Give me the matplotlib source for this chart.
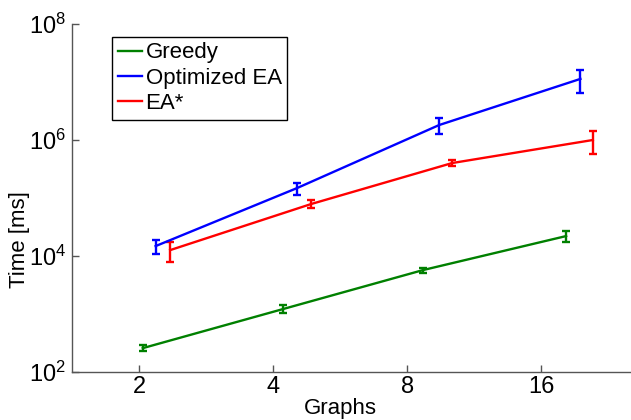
import matplotlib
matplotlib.use('Agg')
import matplotlib.pyplot as plt
from matplotlib.lines import Line2D
from matplotlib.ticker import FixedLocator, NullLocator, FixedFormatter

plt.rcParams['font.family'] = ['Liberation Sans', 'DejaVu Sans']
plt.rcParams['mathtext.fontset'] = 'custom'
plt.rcParams['mathtext.rm'] = 'Liberation Sans'
plt.rcParams['mathtext.it'] = 'Liberation Sans'
plt.rcParams['mathtext.default'] = 'regular'

# values
graphs = [2, 4, 8, 16]
tick_labels = ['2', '4', '8', '16']
y_ticks = [1e2, 1e4, 1e6, 1e8]
y_labels = ['$10^{2}$', '$10^{4}$', '$10^{6}$', '$10^{8}$']

greedy_x = [2.04, 4.21, 8.69, 18.2]
greedy_t = [259, 1220, 5740, 22100]
greedy_err = [30, 190, 560, 4400]

opt_x = [2.18, 4.53, 9.44, 19.6]
opt_t = [14860, 148600, 1.81e6, 1.13e7]
opt_err = [4200, 34000, 5.6e5, 4.8e6]

eastar_x = [2.35, 4.87, 10.1, 20.9]
eastar_t = [12670, 78800, 401000, 1.0e6]
eastar_err = [4800, 12500, 50000, 4.2e5]

green = (0, 0.5, 0)
blue = (0, 0, 1)
red = (1, 0, 0)

fig = plt.figure(figsize=(6.31, 4.2), dpi=100)
ax = fig.add_axes([0.114, 0.114, 0.886, 0.829])

style = dict(lw=1.7, capsize=3, capthick=1.7, elinewidth=1.7)
ax.errorbar(greedy_x, greedy_t, yerr=greedy_err, color=green, **style)
ax.errorbar(opt_x, opt_t, yerr=opt_err, color=blue, **style)
ax.errorbar(eastar_x, eastar_t, yerr=eastar_err, color=red, **style)

ax.set_xscale('log', base=2)
ax.set_yscale('log')
ax.set_xlim(2 ** 0.5, 2 ** 4.67)
ax.set_ylim(1e2, 1e8)
ax.xaxis.set_major_locator(FixedLocator(graphs))
ax.xaxis.set_major_formatter(FixedFormatter(tick_labels))
ax.xaxis.set_minor_locator(NullLocator())
ax.yaxis.set_major_locator(FixedLocator(y_ticks))
ax.yaxis.set_major_formatter(FixedFormatter(y_labels))
ax.yaxis.set_minor_locator(NullLocator())

for s in ['top', 'right']:
    ax.spines[s].set_visible(False)
for s in ['left', 'bottom']:
    ax.spines[s].set_color('#555555')
    ax.spines[s].set_linewidth(1.0)
ax.tick_params(direction='in', length=5, width=1, colors='#555555', labelcolor='black',
               labelsize=17)
ax.tick_params(axis='x', pad=3)
ax.tick_params(axis='y', pad=4)

ax.set_xlabel('Graphs', fontsize=16, labelpad=-2)
ax.xaxis.set_label_coords(0.48, -0.075)
ax.set_ylabel('Time [ms]', fontsize=16)
ax.yaxis.set_label_coords(-0.075, 0.38)

handles = [Line2D([], [], color=c, lw=1.7) for c in (green, blue, red)]
leg = ax.legend(handles, ['Greedy', 'Optimized EA', 'EA*'], loc='upper left',
                bbox_to_anchor=(0.072, 0.963), fontsize=16,
                handlelength=1.1, handletextpad=0.15, borderaxespad=0,
                borderpad=0.25, labelspacing=0.2, fancybox=False, framealpha=1)
leg.get_frame().set_edgecolor('black')
leg.get_frame().set_linewidth(1.0)

fig.savefig('out.png', dpi=100)
